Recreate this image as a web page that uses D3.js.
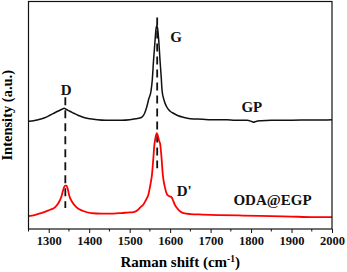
<!DOCTYPE html>
<html>
<head>
<meta charset="utf-8">
<script src="https://cdn.jsdelivr.net/npm/d3@7"></script>
<style>
  body { margin: 0; background: #fff; }
  text { font-family: "Liberation Serif", "Times New Roman", serif; font-weight: bold; }
</style>
</head>
<body>
<div id="chart"></div>
<script>
// Raman shift (cm-1) and intensity (a.u.)
const gpShift = [1250, 1265, 1278, 1290, 1303, 1315, 1325, 1333, 1338, 1343, 1352, 1362, 1372, 1385, 1402, 1420, 1440, 1460, 1480, 1500, 1515, 1530, 1537, 1542, 1547, 1553, 1556, 1559, 1562, 1565, 1567, 1569, 1572, 1575, 1578, 1580, 1585, 1592, 1600, 1608, 1620, 1632, 1650, 1680, 1700, 1740, 1760, 1790, 1800, 1806, 1812, 1825, 1850, 1880, 1900, 1950, 1980, 2000];
const gpInt = [108, 108.8, 110, 111.5, 114, 116.5, 118.5, 120, 121, 120, 118, 116, 114, 112, 110.5, 109.5, 109, 109, 109, 109.5, 110.5, 112, 116, 122, 130, 139, 150, 169, 185, 200, 204, 201, 188, 169, 152, 139, 129, 122, 118, 116, 113.5, 112, 110.5, 110, 109.5, 109.5, 109, 109, 108, 107, 107.8, 108.5, 109, 109, 109, 109.3, 109.3, 109.5];

const odaShift = [1250, 1265, 1281, 1295, 1305, 1316, 1324, 1331, 1335, 1338, 1341, 1344, 1347, 1351, 1358, 1368, 1385, 1405, 1430, 1460, 1480, 1494, 1510, 1520, 1527, 1533, 1540, 1546, 1551, 1555, 1558, 1561, 1564, 1567, 1570, 1573, 1575, 1578, 1582, 1587, 1592, 1597, 1603, 1608, 1612, 1617, 1625, 1633, 1650, 1680, 1720, 1780, 1850, 1900, 1950, 2000];
const odaInt = [13, 14, 16, 18, 19.5, 22, 26, 32, 38, 42, 43.5, 43.5, 40, 33, 27, 22, 18, 16, 15.5, 15.5, 16, 16.5, 17, 19, 22, 24, 29, 34, 44, 54, 68, 84, 92, 96, 93, 88, 86, 75, 54, 42, 35, 33, 32, 28, 24, 21, 17.5, 16, 15, 14.5, 14, 13.5, 13, 12.5, 12, 12];

const xTicks = [1300, 1400, 1500, 1600, 1700, 1800, 1900, 2000];
const xMinorTicks = [1250, 1350, 1450, 1550, 1650, 1750, 1850, 1950];

// dashed guide lines: position and intensity range
const guideShift = [1341, 1568];
const guideTop = [132, 212];
const guideBottom = [21, 61];

// annotations
const noteText = ["D", "G", "GP", "D'", "ODA@EGP"];
const noteShift = [1343, 1615, 1802, 1635, 1853];
const noteInt = [134, 187, 117, 33, 24];

const width = 347, height = 272;
const margin = {left: 28.5, right: 15, top: 1.5, bottom: 43};

const svg = d3.select("#chart").append("svg")
    .attr("width", width)
    .attr("height", height);

const x = d3.scaleLinear()
    .domain([1250, 2000])
    .range([margin.left, width - margin.right]);
const y = d3.scaleLinear()
    .domain([0, 228])
    .range([height - margin.bottom, margin.top]);

const line = d3.line()
    .x(d => x(d[0]))
    .y(d => y(d[1]))
    .curve(d3.curveMonotoneX);

// dashed guides
svg.selectAll(".guide")
    .data(guideShift)
    .join("line")
    .attr("x1", d => x(d))
    .attr("x2", d => x(d))
    .attr("y1", (d, i) => y(guideTop[i]))
    .attr("y2", (d, i) => y(guideBottom[i]))
    .attr("stroke", "#111")
    .attr("stroke-width", 1.8)
    .attr("stroke-dasharray", "8,5");

// spectra
svg.append("path")
    .datum(d3.zip(gpShift, gpInt))
    .attr("d", line)
    .attr("fill", "none")
    .attr("stroke", "#111")
    .attr("stroke-width", 1.5);

svg.append("path")
    .datum(d3.zip(odaShift, odaInt))
    .attr("d", line)
    .attr("fill", "none")
    .attr("stroke", "#ff0000")
    .attr("stroke-width", 1.8);

// frame
svg.append("rect")
    .attr("x", margin.left)
    .attr("y", margin.top)
    .attr("width", width - margin.left - margin.right)
    .attr("height", height - margin.top - margin.bottom)
    .attr("fill", "none")
    .attr("stroke", "#111")
    .attr("stroke-width", 1.2);

// x axis
const xAxis = svg.append("g")
    .attr("transform", `translate(0,${height - margin.bottom})`)
    .call(d3.axisBottom(x).tickValues(xTicks).tickFormat(d3.format("d")).tickSize(4).tickPadding(3));
xAxis.select(".domain").remove();
xAxis.selectAll("text")
    .attr("fill", "#111")
    .style("font-size", "12.5px")
    .style("font-family", "'Liberation Serif', serif")
    .style("font-weight", "bold");
xAxis.selectAll("line").attr("stroke", "#111").attr("stroke-width", 1);

svg.append("g")
    .attr("transform", `translate(0,${height - margin.bottom})`)
    .selectAll("line")
    .data(xMinorTicks)
    .join("line")
    .attr("x1", d => x(d))
    .attr("x2", d => x(d))
    .attr("y1", 0)
    .attr("y2", 2.5)
    .attr("stroke", "#111");

// axis titles
const xt = svg.append("text")
    .attr("x", (margin.left + width - margin.right) / 2)
    .attr("y", 267)
    .attr("text-anchor", "middle")
    .style("font-size", "15px");
xt.append("tspan").text("Raman shift (cm");
xt.append("tspan").text("-1").attr("dy", -5).style("font-size", "9.5px");
xt.append("tspan").text(")").attr("dy", 5);

svg.append("text")
    .attr("transform", `translate(12,${(margin.top + height - margin.bottom) / 2}) rotate(-90)`)
    .attr("text-anchor", "middle")
    .style("font-size", "14.5px")
    .text("Intensity (a.u.)");

// peak and curve labels
svg.selectAll(".note")
    .data(noteText)
    .join("text")
    .attr("x", (d, i) => x(noteShift[i]))
    .attr("y", (d, i) => y(noteInt[i]))
    .attr("text-anchor", "middle")
    .style("font-size", "15px")
    .attr("fill", "#111")
    .text(d => d);
</script>
</body>
</html>
